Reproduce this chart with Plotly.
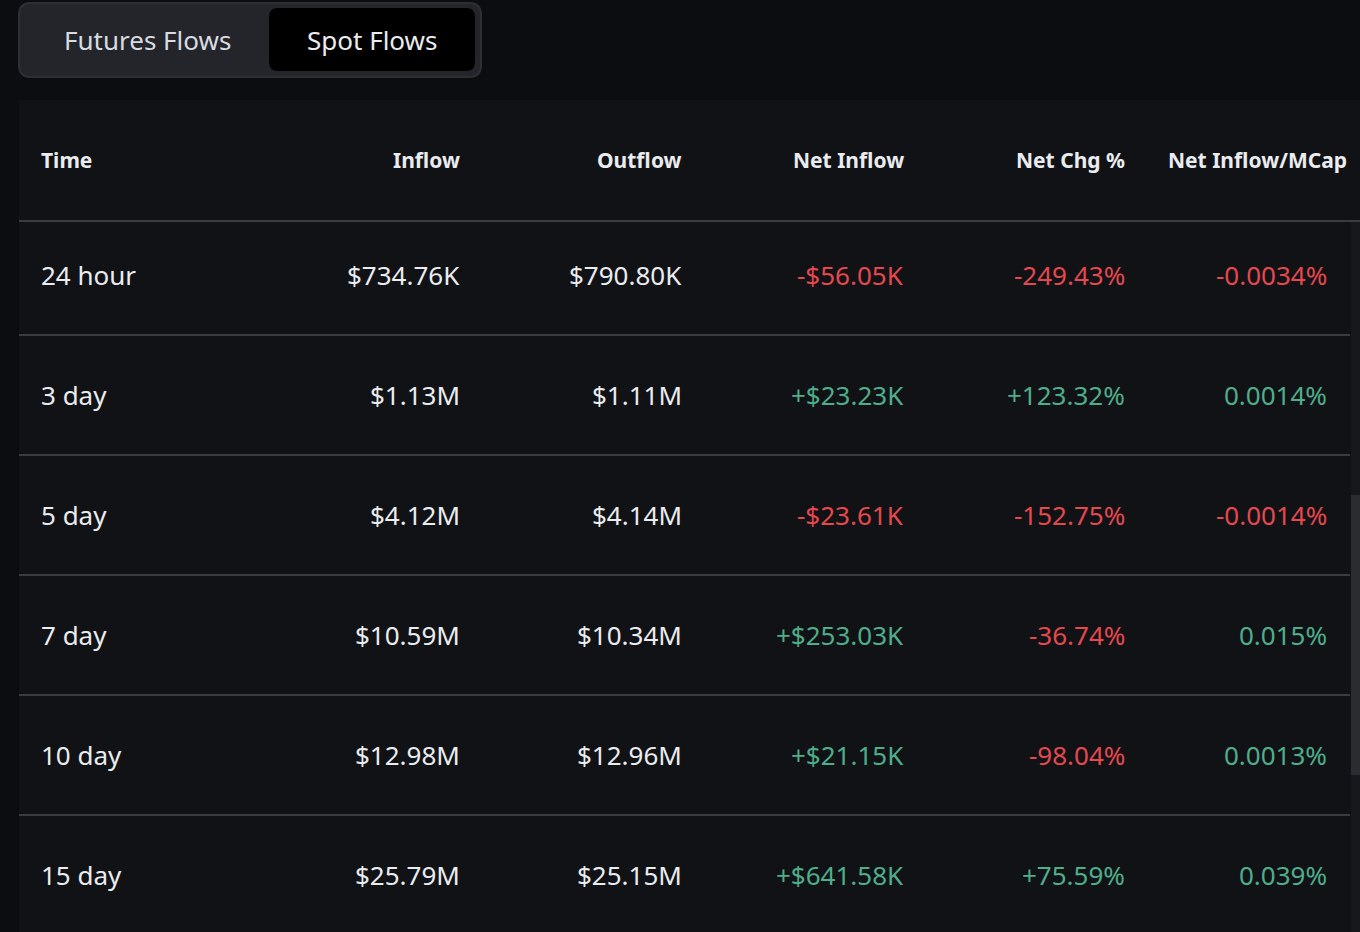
import plotly.graph_objects as go

headers = ["Time", "Inflow", "Outflow", "Net Inflow", "Net Chg %", "Net Inflow/MCap"]
periods = ["24 hour", "3 day", "5 day", "7 day", "10 day", "15 day"]
inflow = ["$734.76K", "$1.13M", "$4.12M", "$10.59M", "$12.98M", "$25.79M"]
outflow = ["$790.80K", "$1.11M", "$4.14M", "$10.34M", "$12.96M", "$25.15M"]
net_inflow = ["-$56.05K", "+$23.23K", "-$23.61K", "+$253.03K", "+$21.15K", "+$641.58K"]
net_chg = ["-249.43%", "+123.32%", "-152.75%", "-36.74%", "-98.04%", "+75.59%"]
net_mcap = ["-0.0034%", "0.0014%", "-0.0014%", "0.015%", "0.0013%", "0.039%"]
tabs = ["Futures Flows", "Spot Flows"]

RED = "#e5484d"
GREEN = "#4fae8a"
WHITE = "#eaecef"
FONT = "Noto Sans"

col_right = [None, 462, 684, 906, 1127, 1329]
hdr_right = [None, 462, 684, 906, 1127, 1349]
row_y0 = 275
row_h = 120


def rrect(x0, y0, x1, y1, r):
    return (f"M{x0+r},{y0} L{x1-r},{y0} Q{x1},{y0} {x1},{y0+r} L{x1},{y1-r} Q{x1},{y1} {x1-r},{y1} "
            f"L{x0+r},{y1} Q{x0},{y1} {x0},{y1-r} L{x0},{y0+r} Q{x0},{y0} {x0+r},{y0} Z")


def color_of(s):
    return RED if s.startswith("-") else GREEN


fig = go.Figure()
shapes = []
ann = []

# table background
shapes.append(dict(type="rect", x0=19, x1=1360, y0=100, y1=932, fillcolor="#111216", line_width=0, layer="below"))
# tabs
shapes.append(dict(type="path", path=rrect(19, 3, 481, 77, 12), fillcolor="#23252b", line=dict(color="#2e3037", width=2)))
shapes.append(dict(type="path", path=rrect(269, 8, 475, 71, 9), fillcolor="#000000", line_width=0))
ann.append(dict(x=147, y=40, text=tabs[0], font=dict(size=26, color="#d8dbe0", family=FONT), showarrow=False))
ann.append(dict(x=372, y=40, text=tabs[1], font=dict(size=26, color="#eaecef", family=FONT), showarrow=False))

# header
for i, h in enumerate(headers):
    if i == 0:
        ann.append(dict(x=39, y=160, text=f"<b>{h}</b>", xanchor="left", showarrow=False,
                        font=dict(size=21, color=WHITE, family=FONT)))
    else:
        ann.append(dict(x=hdr_right[i], y=160, text=f"<b>{h}</b>", xanchor="right", showarrow=False,
                        font=dict(size=21, color=WHITE, family=FONT)))
shapes.append(dict(type="line", x0=19, x1=1360, y0=221, y1=221, line=dict(color="#3a3c42", width=2)))

# rows
for r in range(len(periods)):
    y = row_y0 + r * row_h
    vals = [periods[r], inflow[r], outflow[r], net_inflow[r], net_chg[r], net_mcap[r]]
    for i, v in enumerate(vals):
        c = WHITE if i < 3 else color_of(v)
        if i == 0:
            ann.append(dict(x=39, y=y, text=v, xanchor="left", showarrow=False,
                            font=dict(size=26, color=c, family=FONT)))
        else:
            ann.append(dict(x=col_right[i], y=y, text=v, xanchor="right", showarrow=False,
                            font=dict(size=26, color=c, family=FONT)))
    if r < len(periods) - 1:
        ly = y + row_h / 2
        shapes.append(dict(type="line", x0=19, x1=1350, y0=ly, y1=ly, line=dict(color="#3a3c42", width=2)))

# scrollbar
shapes.append(dict(type="rect", x0=1351, x1=1360, y0=222, y1=932, fillcolor="#17181c", line_width=0))
shapes.append(dict(type="rect", x0=1351, x1=1360, y0=495, y1=775, fillcolor="#2a2c31", line_width=0))

fig.update_layout(
    width=1360, height=932, margin=dict(l=0, r=0, t=0, b=0),
    paper_bgcolor="#0c0d10", plot_bgcolor="#0c0d10",
    xaxis=dict(range=[0, 1360], visible=False, fixedrange=True),
    yaxis=dict(range=[932, 0], visible=False, fixedrange=True),
    shapes=shapes, annotations=ann, showlegend=False,
)
fig.write_html("out.html", config={"displayModeBar": False},
               post_script="document.body.style.margin='0';document.body.style.overflow='hidden';"
                           "document.body.style.background='#0c0d10';")
